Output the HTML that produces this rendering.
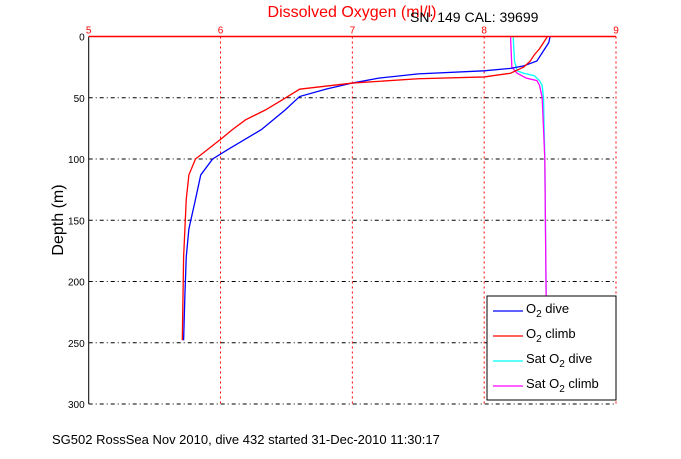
<!DOCTYPE html>
<html><head><meta charset="utf-8"><style>
body{margin:0;background:#fff}
svg{font-family:"Liberation Sans",sans-serif}
</style></head><body>
<svg width="681" height="454" viewBox="0 0 681 454">
<g id="grid"></g>
<g id="series"></g>
<g id="axes"></g>
<text x="352" y="17" text-anchor="middle" fill="#f00" font-size="16">Dissolved Oxygen (ml/l)</text>
<text x="410" y="22" font-size="14" fill="#000">SN: 149  CAL: 39699</text>
<text transform="translate(63,220) rotate(-90)" text-anchor="middle" font-size="16">Depth (m)</text>
<text x="52" y="444" font-size="13">SG502 RossSea Nov 2010, dive 432 started 31-Dec-2010 11:30:17</text>
<g>
<rect x="487" y="296" width="129" height="104" fill="#fff" stroke="#000"/>
<g id="leg"></g>
</g>
</svg>
<script>
const xTicks=[5,6,7,8,9];
const yTicks=[0,50,100,150,200,250,300];
const o2DiveDepth=[0,5,10,15,20,24,26,28,30.5,34,38,43,49,60,76,92,100,113,133,157,180,210,248];
const o2DiveVal=[8.5,8.49,8.46,8.43,8.4,8.3,8.2,8.0,7.5,7.2,7.0,6.8,6.6,6.49,6.31,6.06,5.94,5.85,5.81,5.76,5.74,5.73,5.72];
const o2ClimbDepth=[0,5,10,15,20,25,30,33,34.5,38,43,51,60,68,76,84,100,113,133,180,248];
const o2ClimbVal=[8.48,8.45,8.42,8.38,8.35,8.3,8.2,8.0,7.5,7.0,6.6,6.48,6.34,6.19,6.09,6.0,5.81,5.76,5.74,5.72,5.71];
const satDiveDepth=[0,20,28,30,32,36,40,50,100,210];
const satDiveVal=[8.22,8.23,8.25,8.3,8.38,8.42,8.44,8.45,8.46,8.47];
const satClimbDepth=[0,25,30,34,36,40,50,100,212];
const satClimbVal=[8.2,8.21,8.25,8.32,8.4,8.42,8.44,8.46,8.47];
const L=88.7,R=616,T=36.5,B=404;
const xs=v=>L+(v-5)/4*(R-L);
const ys=d=>T+d/300*(B-T);
const NS="http://www.w3.org/2000/svg";
function mk(tag,attrs,parent){const e=document.createElementNS(NS,tag);for(const k in attrs)e.setAttribute(k,attrs[k]);parent.appendChild(e);return e;}
const grid=document.getElementById('grid'),axes=document.getElementById('axes'),ser=document.getElementById('series');
xTicks.forEach(t=>{
 if(t>5){const l=mk('line',{x1:xs(t),x2:xs(t),y1:T,y2:B,stroke:'#f00','stroke-dasharray':'2,3'},grid);
 }
 const tx=mk('text',{x:xs(t),y:T-3,'text-anchor':'middle','font-size':'10',fill:'#f00'},axes);tx.textContent=t;
 
});
yTicks.forEach(t=>{
 if(t>0){const l=mk('line',{x1:L,x2:R,y1:ys(t),y2:ys(t),stroke:'#000','stroke-dasharray':'4,3,1,3'},grid);
 }
 const tx=mk('text',{x:L-4,y:ys(t)+4,'text-anchor':'end','font-size':'10',fill:'#000'},axes);tx.textContent=t;
 
});
let a=mk('line',{x1:L,x2:L,y1:T,y2:B,stroke:'#000'},axes);

a=mk('line',{x1:L,x2:R,y1:T,y2:T,stroke:'#f00','stroke-width':1.5},axes);

function line(d,v,col,name){const p=mk('polyline',{points:d.map((dd,i)=>xs(v[i])+','+ys(dd)).join(' '),fill:'none',stroke:col,'stroke-width':1.3},ser);
 }
line(satDiveDepth,satDiveVal,'#0ff','sat-o2-dive-line');
line(satClimbDepth,satClimbVal,'#f0f','sat-o2-climb-line');
line(o2DiveDepth,o2DiveVal,'#00f','o2-dive-line');
line(o2ClimbDepth,o2ClimbVal,'#f00','o2-climb-line');
const leg=document.getElementById('leg');
const legLabels=[['O','2',' dive','#00f'],['O','2',' climb','#f00'],['Sat O','2',' dive','#0ff'],['Sat O','2',' climb','#f0f']];
legLabels.forEach((l,i)=>{const y=311+i*25;
 const s=mk('line',{x1:493,x2:523,y1:y,y2:y,stroke:l[3],'stroke-width':1.3},leg);
 
 const t=mk('text',{x:526,y:y+2,'font-size':'13'},leg);
 
 t.innerHTML=l[0]+'<tspan dy="4" font-size="10">'+l[1]+'</tspan><tspan dy="-4">'+l[2]+'</tspan>';
});
</script>
</body></html>
